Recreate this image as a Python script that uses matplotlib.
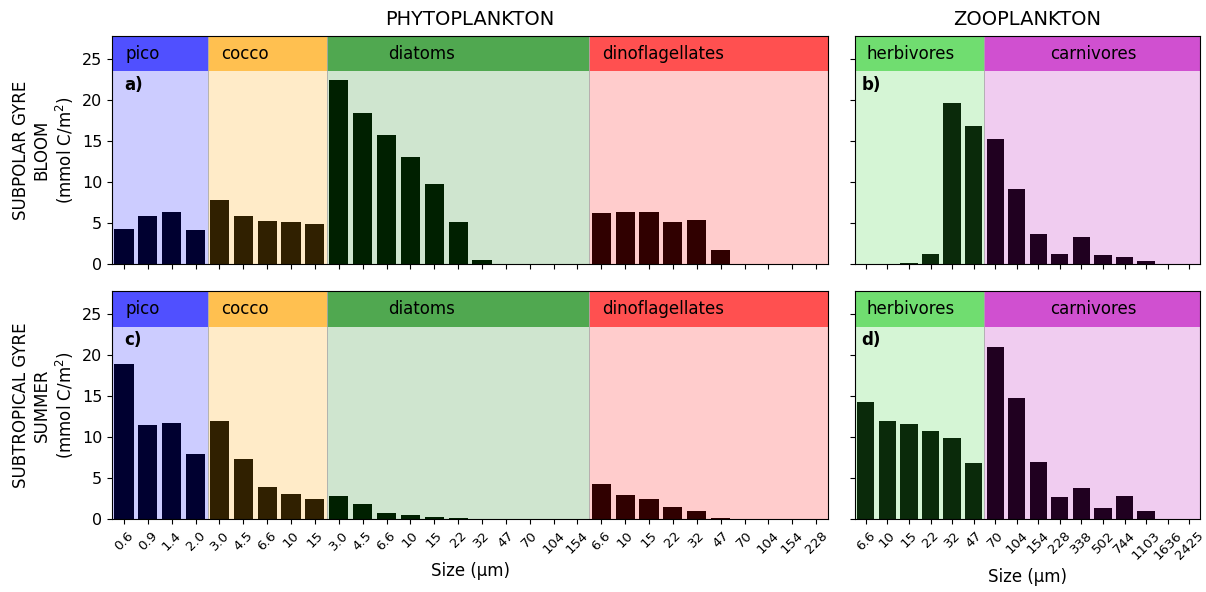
import numpy as np
import matplotlib.pyplot as plt

phyto_groups = ["pico", "cocco", "diatoms", "dinoflagellates"]
phyto_sizes = [
    ["0.6", "0.9", "1.4", "2.0"],
    ["3.0", "4.5", "6.6", "10", "15"],
    ["3.0", "4.5", "6.6", "10", "15", "22", "32", "47", "70", "104", "154"],
    ["6.6", "10", "15", "22", "32", "47", "70", "104", "154", "228"],
]
zoo_groups = ["herbivores", "carnivores"]
zoo_sizes = [
    ["6.6", "10", "15", "22", "32", "47"],
    ["70", "104", "154", "228", "338", "502", "744", "1103", "1636", "2425"],
]

phyto_bloom = [
    [4.3, 5.9, 6.3, 4.1],
    [7.8, 5.9, 5.3, 5.1, 4.9],
    [22.4, 18.4, 15.7, 13.1, 9.8, 5.1, 0.5, 0, 0, 0, 0],
    [6.2, 6.4, 6.3, 5.1, 5.4, 1.7, 0, 0, 0, 0],
]
zoo_bloom = [
    [0, 0, 0.1, 1.2, 19.6, 16.8],
    [15.2, 9.1, 3.7, 1.2, 3.3, 1.1, 0.8, 0.4, 0, 0],
]
phyto_summer = [
    [18.9, 11.5, 11.7, 8.0],
    [12.0, 7.4, 3.9, 3.1, 2.5],
    [2.8, 1.8, 0.8, 0.5, 0.3, 0.2, 0, 0, 0, 0, 0],
    [4.3, 3.0, 2.5, 1.5, 1.0, 0.2, 0, 0, 0, 0],
]
zoo_summer = [
    [14.3, 12.0, 11.6, 10.7, 9.9, 6.9],
    [21.0, 14.8, 7.0, 2.7, 3.8, 1.4, 2.8, 1.0, 0, 0],
]

phyto_band = ["#5050ff", "#ffc050", "#50a850", "#ff5050"]
phyto_bg = ["#ccccff", "#ffebc8", "#cfe5cf", "#ffcccc"]
phyto_bar = ["#000030", "#302000", "#002000", "#300000"]
phyto_lab_off = [0.0, 0.0, 2.0, 0.0]
zoo_band = ["#70dd70", "#d050d0"]
zoo_bg = ["#d5f5d5", "#f0ccf0"]
zoo_bar = ["#0a2a0a", "#200020"]
zoo_lab_off = [0.0, 2.5]

YMAX = 27.8
BAND = 23.5


def panel(ax, groups, sizes, vals, band, bg, barc, off, letter, show_x):
    pos = 0
    labels = []
    for g, s, v, bc, bgc, brc, o in zip(groups, sizes, vals, band, bg, barc, off):
        n = len(s)
        x0, x1 = pos - 0.5, pos + n - 0.5
        ax.axvspan(x0, x1, ymin=0, ymax=BAND / YMAX, color=bgc, lw=0)
        ax.axvspan(x0, x1, ymin=BAND / YMAX, ymax=1, color=bc, lw=0)
        ax.axvline(x1, color="#aaaaaa", lw=0.6)
        ax.bar(np.arange(pos, pos + n), v, width=0.8, color=brc)
        ax.text(x0 + 0.55 + o, (BAND + YMAX) / 2, g, va="center", ha="left", fontsize=12)
        labels += s
        pos += n
    ax.set_xlim(-0.5, pos - 0.5)
    ax.set_ylim(0, YMAX)
    ax.set_yticks([0, 5, 10, 15, 20, 25])
    ax.set_xticks(np.arange(pos))
    ax.tick_params(labelsize=11.5)
    if show_x:
        ax.set_xticklabels(labels, rotation=45, fontsize=9.5)
        ax.set_xlabel("Size (µm)", fontsize=12)
    else:
        ax.set_xticklabels([])
    ax.text(-0.5 + 0.016 * pos + 0.05, BAND - 0.6, letter, fontweight="bold",
            fontsize=12, va="top")


fig = plt.figure(figsize=(12.06, 5.92), dpi=100)
l = 0.0929
lw = 0.6866 - l
r = 0.709
rw = 0.995 - r
ax_a = fig.add_axes([l, 0.554, lw, 0.385])
ax_b = fig.add_axes([r, 0.554, rw, 0.385])
ax_c = fig.add_axes([l, 0.123, lw, 0.385])
ax_d = fig.add_axes([r, 0.123, rw, 0.385])

panel(ax_a, phyto_groups, phyto_sizes, phyto_bloom, phyto_band, phyto_bg, phyto_bar, phyto_lab_off, "a)", False)
panel(ax_b, zoo_groups, zoo_sizes, zoo_bloom, zoo_band, zoo_bg, zoo_bar, zoo_lab_off, "b)", False)
panel(ax_c, phyto_groups, phyto_sizes, phyto_summer, phyto_band, phyto_bg, phyto_bar, phyto_lab_off, "c)", True)
panel(ax_d, zoo_groups, zoo_sizes, zoo_summer, zoo_band, zoo_bg, zoo_bar, zoo_lab_off, "d)", True)

ax_b.set_yticklabels([])
ax_d.set_yticklabels([])

ax_a.set_title("PHYTOPLANKTON", fontsize=14, pad=8)
ax_b.set_title("ZOOPLANKTON", fontsize=14, pad=8)
ax_a.set_ylabel("SUBPOLAR GYRE\nBLOOM\n(mmol C/m$^2$)", fontsize=12)
ax_c.set_ylabel("SUBTROPICAL GYRE\nSUMMER\n(mmol C/m$^2$)", fontsize=12)

fig.savefig("out.png", dpi=100)
